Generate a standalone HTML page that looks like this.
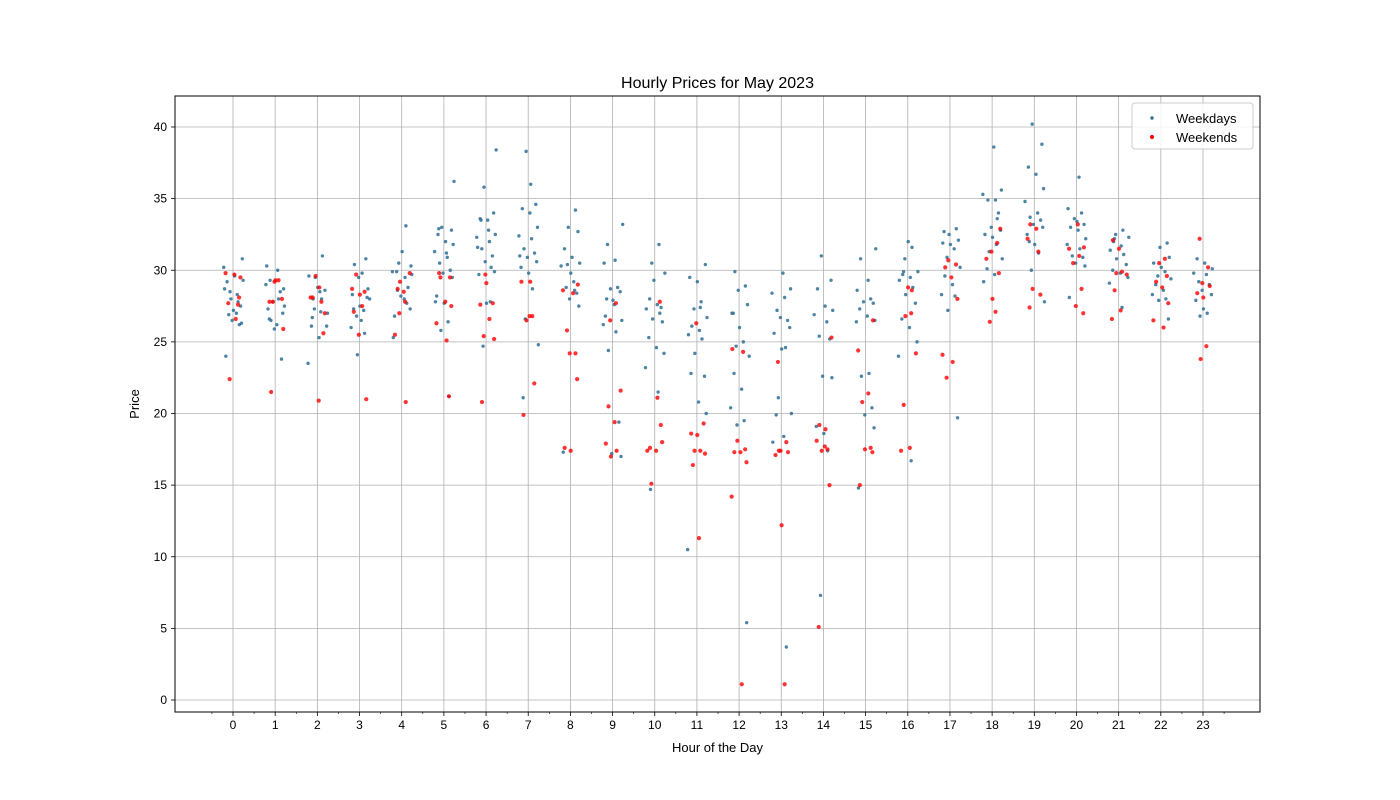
<!DOCTYPE html>
<html><head><meta charset="utf-8">
<style>
html,body{margin:0;padding:0;background:#fff;}
svg{display:block;font-family:"Liberation Sans","DejaVu Sans",sans-serif;}
</style></head>
<body>
<svg id="chart" width="1400" height="800" viewBox="0 0 1400 800" xmlns="http://www.w3.org/2000/svg">
<rect width="1400" height="800" fill="#fff"/>
<g id="grid"></g>
<g id="pts"></g>
<g id="axes"></g>
</svg>
<script>
const hours = [0,1,2,3,4,5,6,7,8,9,10,11,12,13,14,15,16,17,18,19,20,21,22,23];
const yTicks = [0,5,10,15,20,25,30,35,40];
const jitter = [-0.2,0.12,-0.05,0.18,-0.14,0.04,0.22,-0.22,0.08,-0.1,0.15,-0.02,0.2,-0.17,0.01,0.1,-0.07,0.24,-0.12,0.06];
const weekdays = [
[28.7,27.8,28.0,27.5,29.2,29.6,30.8,30.2,27.0,26.9,26.2,26.5,26.3,24.0,27.2,28.3,28.5,29.3],
[29.3,30.0,30.3,28.5,27.8,27.0,26.6,26.2,27.5,29.0,28.0,26.5,23.8,25.9,28.7,27.3],
[28.8,28.0,27.3,27.0,26.7,28.5,29.6,31.0,29.5,28.6,26.1,25.3,26.1,23.5,27.1,28.0],
[30.8,29.5,28.7,28.3,27.5,27.2,26.8,28.0,30.4,29.8,26.0,25.6,24.1,28.1,27.3,26.5],
[30.3,29.9,29.5,28.6,28.8,28.2,27.3,26.8,31.3,33.1,30.5,29.7,29.9,28.0,25.3,27.7],
[33.0,32.8,32.5,32.0,31.8,31.3,30.9,30.5,30.0,29.8,29.5,28.2,27.7,26.4,25.8,36.2,32.9,31.2,27.8,21.2],
[35.8,34.0,33.6,33.5,32.5,32.3,32.0,31.5,31.0,30.6,29.9,29.7,27.7,27.8,24.7,38.4,33.5,32.8,31.6,30.2],
[38.3,34.6,34.3,34.0,33.0,32.4,32.2,31.5,31.2,30.9,30.6,30.2,29.8,28.7,26.6,24.8,21.1,36.0,31.0],
[34.2,33.0,32.7,31.5,30.9,30.5,30.3,29.2,28.8,28.4,28.0,27.5,17.3,29.8,28.6,30.4],
[33.2,31.8,30.7,30.5,28.8,28.7,28.5,28.0,27.6,26.5,26.2,25.7,24.4,19.4,17.2,17.0,26.8,27.9],
[31.8,30.5,29.8,28.0,27.6,27.3,27.0,26.6,26.4,25.3,24.6,24.2,23.2,21.5,14.7,27.4,29.3],
[30.4,29.5,29.2,27.8,27.3,26.7,26.1,25.8,25.5,25.2,24.2,22.6,22.8,20.8,20.0,10.5,27.4],
[29.9,28.9,28.6,27.6,27.0,26.0,25.0,24.7,24.0,22.8,21.7,20.4,19.5,19.2,5.4,27.0],
[29.8,28.7,28.4,28.1,27.2,26.5,26.7,26.0,25.6,24.5,24.6,21.1,20.0,19.9,18.4,18.0,3.7],
[31.0,29.3,28.7,27.5,27.2,26.9,26.4,25.4,25.2,22.6,22.5,19.1,18.6,17.4,7.3],
[31.5,30.8,29.3,28.6,28.0,27.8,27.7,27.3,26.8,26.5,26.4,22.8,22.6,20.4,19.9,19.0,14.8],
[32.0,31.6,30.8,29.9,29.7,29.5,29.3,28.8,28.3,27.7,26.6,26.0,25.0,24.0,16.7,29.9],
[32.9,32.5,32.1,31.9,31.8,31.5,30.9,30.2,29.6,29.0,28.3,28.2,27.2,19.7,32.7],
[38.6,35.6,35.3,34.9,34.9,34.0,33.0,32.8,32.5,32.3,31.8,31.3,30.8,30.1,29.7,29.2,33.6],
[40.2,38.8,37.2,36.7,35.7,34.8,34.0,33.7,33.5,33.2,33.0,32.5,31.8,31.2,30.0,27.8,32.0],
[36.5,34.3,34.0,33.6,33.2,33.0,32.8,32.2,31.8,31.5,31.0,30.9,30.5,30.3,28.1,33.4],
[32.8,32.5,32.3,32.0,31.7,31.4,31.1,30.8,30.4,30.0,29.8,29.5,29.1,27.4,32.2],
[31.9,31.6,30.9,30.5,30.2,29.9,29.6,29.4,29.0,28.6,28.3,28.0,27.9,26.6],
[30.8,30.5,30.1,29.8,29.7,29.2,29.0,28.6,28.3,27.9,27.3,27.0,26.8]
];
const weekends = [
[28.1,27.7,29.7,29.5,29.8,26.6,22.4,27.6],
[29.2,28.0,27.8,29.3,29.3,27.8,25.9,21.5],
[28.8,28.1,27.8,29.6,25.6,28.1,20.9,27.0],
[28.7,27.5,29.7,28.5,25.5,21.0,27.1,28.3],
[27.8,27.0,29.8,28.7,28.5,25.5,20.8,29.2],
[29.5,29.8,27.8,27.5,26.3,25.1,29.5,21.2],
[29.7,27.7,27.6,29.1,26.6,25.4,25.2,20.8],
[29.2,29.2,26.8,26.5,22.1,19.9,26.8],
[29.0,28.6,28.4,25.8,24.2,24.2,22.4,17.6,17.4],
[27.7,26.5,21.6,20.5,19.4,17.9,17.4,17.0],
[19.2,17.6,17.4,18.0,17.4,21.1,15.1,27.8],
[26.3,19.3,18.6,18.5,17.4,17.4,17.2,16.4,11.3],
[24.5,24.3,18.1,17.5,17.3,17.3,16.6,14.2,1.1],
[23.6,18.0,17.4,17.3,17.1,12.2,1.1,17.4],
[25.3,19.2,18.9,18.1,17.5,17.4,15.0,5.1,17.7],
[26.5,24.4,21.4,20.8,17.6,17.5,17.3,15.0],
[28.8,27.0,26.8,24.2,20.6,17.6,17.4,28.6],
[30.7,30.4,30.2,29.5,28.0,24.1,23.6,22.5],
[31.9,31.3,29.8,30.8,28.0,27.1,26.4,32.9],
[33.2,32.9,32.2,31.3,28.7,28.3,27.4],
[33.2,31.6,31.5,31.0,30.5,28.7,27.5,27.0],
[32.1,31.5,29.9,29.8,29.7,28.6,27.2,26.6],
[30.8,30.5,29.6,29.2,28.8,27.7,26.5,26.0],
[32.2,30.2,29.1,28.9,28.4,28.1,24.7,23.8]
];
const NS="http://www.w3.org/2000/svg";
const L=175,R=1260,T=96,B=712;
const xs=h=>233+h*(1203-233)/23;
const ys=v=>700-v*(700-127)/40;
function mk(tag,attrs,parent,text){const e=document.createElementNS(NS,tag);for(const k in attrs)e.setAttribute(k,attrs[k]);if(text!==undefined)e.textContent=text;parent.appendChild(e);return e;}
const grid=document.getElementById('grid'),pts=document.getElementById('pts'),axes=document.getElementById('axes');
hours.forEach(h=>{
  const g=mk('line',{x1:xs(h),x2:xs(h),y1:T,y2:B,stroke:'#b0b0b0','stroke-width':0.8},grid);
  
  
  mk('line',{x1:xs(h),x2:xs(h),y1:B,y2:B+4,stroke:'#000','stroke-width':0.8},axes);
  const t=mk('text',{x:xs(h),y:B+17,'font-size':12,'text-anchor':'middle',fill:'#000'},axes,String(h));
  
  
});
for(let h=-1;h<=23;h++){mk('line',{x1:xs(h+0.5),x2:xs(h+0.5),y1:B,y2:B+2,stroke:'#000','stroke-width':0.6},axes);}
yTicks.forEach(v=>{
  const g=mk('line',{x1:L,x2:R,y1:ys(v),y2:ys(v),stroke:'#b0b0b0','stroke-width':0.8},grid);
  
  
  mk('line',{x1:L-4,x2:L,y1:ys(v),y2:ys(v),stroke:'#000','stroke-width':0.8},axes);
  const t=mk('text',{x:L-8,y:ys(v)+4,'font-size':12,'text-anchor':'end',fill:'#000'},axes,String(v));
  
  
});
let k=0;
weekdays.forEach((arr,h)=>arr.forEach(v=>{
  const c=mk('circle',{cx:xs(hours[h]+jitter[k%jitter.length]),cy:ys(v),r:1.7,fill:'#2e6f94','fill-opacity':0.85},pts);
  
  
  k++;
}));
k=3;
weekends.forEach((arr,h)=>arr.forEach(v=>{
  const c=mk('circle',{cx:xs(hours[h]+jitter[k%jitter.length]*0.8),cy:ys(v),r:2.1,fill:'#ff0000','fill-opacity':0.8},pts);
  
  
  k++;
}));
mk('rect',{x:L,y:T,width:R-L,height:B-T,fill:'none',stroke:'#000','stroke-width':1},axes);
const title=mk('text',{x:(L+R)/2,y:88,'font-size':16,'text-anchor':'middle',fill:'#000'},axes,'Hourly Prices for May 2023');


const xt=mk('text',{x:(L+R)/2,y:752,'font-size':13,'text-anchor':'middle',fill:'#000'},axes,'Hour of the Day');


const yt=mk('text',{x:139,y:404,'font-size':13,'text-anchor':'middle',fill:'#000',transform:'rotate(-90 139 404)'},axes,'Price');


const lg=mk('g',{},axes);


mk('rect',{x:1132,y:103,width:121,height:46,rx:3,fill:'#fff','fill-opacity':0.85,stroke:'#ccc'},lg);
mk('circle',{cx:1152,cy:118,r:1.7,fill:'#2e6f94'},lg);
mk('circle',{cx:1152,cy:137,r:2.1,fill:'#ff0000'},lg);
const l1=mk('text',{x:1176,y:119+4,'font-size':13,fill:'#000'},lg,'Weekdays');


const l2=mk('text',{x:1176,y:138+4,'font-size':13,fill:'#000'},lg,'Weekends');


</script>
</body></html>
